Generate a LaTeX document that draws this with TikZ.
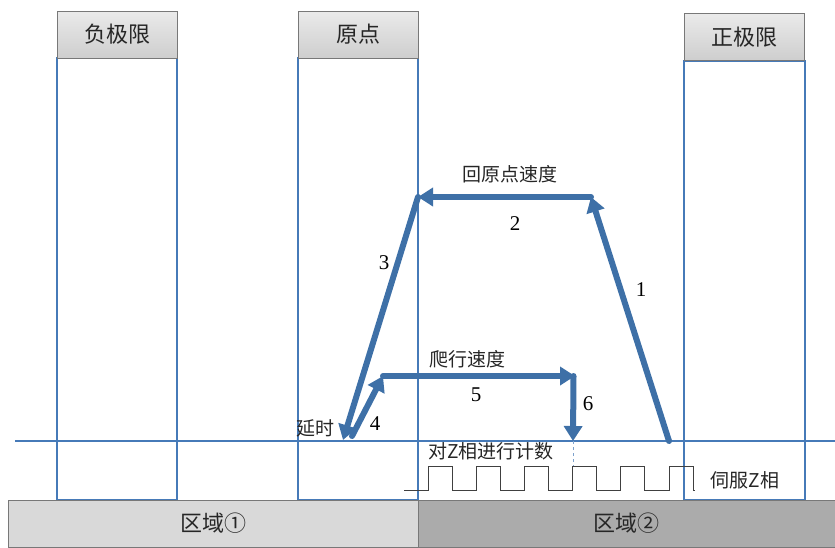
\documentclass[tikz,border=0pt]{standalone}
\usepackage{fontspec}
\setmainfont{Liberation Serif}
\newfontfamily\cjk{Noto Sans CJK SC}
\usetikzlibrary{arrows.meta,calc}
\definecolor{thinblue}{RGB}{70,122,184}
\definecolor{thickblue}{RGB}{62,112,167}
\definecolor{hdrtop}{RGB}{234,234,234}
\definecolor{hdrbot}{RGB}{206,206,206}
\definecolor{bordergray}{RGB}{120,120,120}
\tikzset{
  hdr/.style={draw=bordergray, line width=0.9pt, top color=hdrtop, bottom color=hdrbot,
    minimum width=120pt, minimum height=47pt, inner sep=0pt, font=\cjk\fontsize{22}{24}\selectfont, text=black!85},
  colbody/.style={draw=thinblue, line width=1.3pt},
  thinline/.style={draw=thinblue, line width=1.3pt},
  move/.style={draw=thickblue, line width=6pt, line cap=round,
    -{Triangle[length=15pt,width=18pt]}},
  lbl/.style={font=\cjk\fontsize{19}{21}\selectfont, text=black!85, inner sep=1pt},
  num/.style={font=\fontsize{21}{23}\selectfont, text=black, inner sep=1pt},
  wave/.style={draw=black!75, line width=0.9pt},
  zone/.style={draw=bordergray, line width=0.9pt, minimum height=47pt, inner sep=0pt,
    font=\cjk\fontsize{22}{24}\selectfont, text=black!85}
}
\begin{document}
\begin{tikzpicture}[x=1pt,y=-1pt]
\useasboundingbox (0,0) rectangle (835,547);
% column bodies
\draw[colbody] (57,58) rectangle (177,500);
\draw[colbody] (298,58) rectangle (418,500);
\draw[colbody] (684,61) rectangle (805,500);
% headers
\node[hdr] (neg) at (117,34.5) {负极限};
\node[hdr] (org) at (358,34.5) {原点};
\node[hdr] (pos) at (744.5,37) {正极限};
% horizontal baseline
\coordinate (hl) at (15,441);
\coordinate (hr) at (835,441);
\draw[thinline] (hl) -- (hr);
% bottom zones
\node[zone, fill=black!15, minimum width=410pt] (z1) at (213,523.5) {区域①};
\node[zone, fill=black!33, minimum width=417pt] (z2) at (626.5,523.5) {区域②};
% square wave
\draw[wave] (404,490) -- (428,490)
  \foreach \i in {0,...,5} { -- ({428+48.2*\i},466) -- ({452+48.2*\i},466) -- ({452+48.2*\i},490) -- ({476.2+48.2*\i},490) };
\fill[white] (694.6,489) rectangle (720,491.5);
% dashed marker
\coordinate (dtop) at (573,441);
\coordinate (dbot) at (573,466);
\draw[thinblue!70, line width=1pt, dashed] (dtop) -- (dbot);
% motion path
\coordinate (a) at (669,441);
\coordinate (b) at (591,197);
\coordinate (c) at (418,197);
\coordinate (d) at (343,440);
\coordinate (e) at (352,436);
\coordinate (f) at (383,376);
\coordinate (g) at (575,376);
\coordinate (h) at (573,441);
\draw[move] (a) -- (b);
\draw[move] (b) -- (c);
\draw[move] (c) -- (d);
\draw[move] (e) -- (f);
\draw[move] (f) -- (g);
\draw[move] ($(g)+(-1.5,0)$) -- (h);
% labels
\node[lbl] (l2t) at (510,174) {回原点速度};
\node[num] (n2) at (515,224) {2};
\node[num] (n1) at (641,290) {1};
\node[num] (n3) at (384,263) {3};
\node[lbl] (l5t) at (467,359) {爬行速度};
\node[num] (n5) at (476,395) {5};
\node[num] (n6) at (588,404) {6};
\node[num] (n4) at (375,424) {4};
\node[lbl] (ldelay) at (315,428) {延时};
\node[lbl] (lcount) at (491,451) {对Z相进行计数};
\node[lbl] (lz) at (745,480) {伺服Z相};
\end{tikzpicture}
\end{document}
